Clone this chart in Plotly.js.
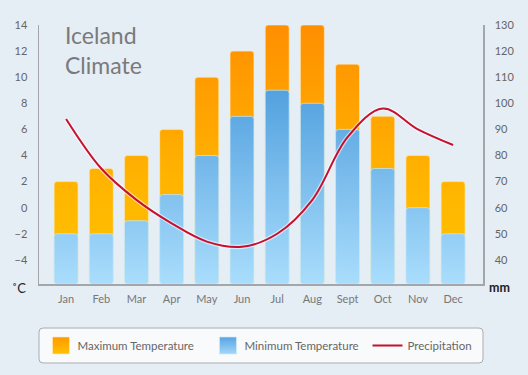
<!DOCTYPE html>
<html>
<head>
<meta charset="utf-8">
<script src="https://cdn.plot.ly/plotly-3.0.1.min.js"></script>
<style>
  html, body { margin: 0; padding: 0; background: #e5edf5; }
  #chart { width: 528px; height: 375px; }
</style>
</head>
<body>
<div id="chart"></div>
<script>
const months = ['Jan', 'Feb', 'Mar', 'Apr', 'May', 'Jun', 'Jul', 'Aug', 'Sept', 'Oct', 'Nov', 'Dec'];
const maxTemp = [2, 3, 4, 6, 10, 12, 14, 14, 11, 7, 4, 2];
const minTemp = [-2, -2, -1, 1, 4, 7, 9, 8, 6, 3, 0, -2];
const precipitation = [94, 75, 63, 54, 47, 45, 50, 63, 87, 98, 90, 84];
const tempTicks = [-4, -2, 0, 2, 4, 6, 8, 10, 12, 14];
const precipTicks = [40, 50, 60, 70, 80, 90, 100, 110, 120, 130];

const tempRange = [-5.85, 14];
const precipRange = [30.75, 130];
const base = tempRange[0];
const xIdx = months.map((m, i) => i);

const FONT = 'Lato, "Open Sans", sans-serif';

const traces = [
  {
    type: 'bar', name: 'Maximum Temperature', x: xIdx, legend: 'legend',
    y: maxTemp.map(v => v - base), base: base,
    width: 0.68,
    marker: { color: '#ffa800', line: { color: 'rgba(255,235,190,0.6)', width: 1 } },
    hoverinfo: 'skip'
  },
  {
    type: 'bar', name: 'Minimum Temperature', x: xIdx, legend: 'legend2',
    y: minTemp.map(v => v - base), base: base,
    width: 0.68,
    marker: { color: '#6fb5e8', line: { color: 'rgba(200,235,255,0.7)', width: 1 } },
    hoverinfo: 'skip'
  },
  {
    type: 'scatter', mode: 'lines', x: xIdx, y: precipitation, yaxis: 'y2',
    line: { color: 'rgba(255,255,255,0.55)', width: 4.5, shape: 'spline', smoothing: 1 },
    showlegend: false, hoverinfo: 'skip'
  },
  {
    type: 'scatter', mode: 'lines', name: 'Precipitation', x: xIdx, y: precipitation, yaxis: 'y2',
    legend: 'legend3',
    line: { color: '#c8102e', width: 2, shape: 'spline', smoothing: 1 },
    hoverinfo: 'skip'
  }
];

const rx = 4 / 444, ry = 4 / 259;
const yt = -0.170, yb = -0.305;
const boxPath = `M ${rx},${yt} L ${1 - rx},${yt} Q 1,${yt} 1,${yt - ry} L 1,${yb + ry} Q 1,${yb} ${1 - rx},${yb} L ${rx},${yb} Q 0,${yb} 0,${yb + ry} L 0,${yt - ry} Q 0,${yt} ${rx},${yt} Z`;

function legendAt(x) {
  return {
    orientation: 'h', x: x, xanchor: 'left', y: -0.2375, yanchor: 'middle',
    bgcolor: 'rgba(0,0,0,0)', borderwidth: 0,
    font: { family: FONT, size: 11.5, color: '#666' }
  };
}

const layout = {
  width: 528, height: 375,
  margin: { l: 39, r: 45, t: 25, b: 91, pad: 0, autoexpand: false },
  paper_bgcolor: '#e5edf5',
  plot_bgcolor: 'rgba(0,0,0,0)',
  font: { family: FONT, color: '#666', size: 11 },
  barmode: 'overlay',
  barcornerradius: 3,
  showlegend: true,
  xaxis: {
    range: [-0.77, 11.85], tickvals: xIdx, ticktext: months,
    showline: true, linecolor: '#a3a7ab', linewidth: 1.5,
    showgrid: false, zeroline: false, ticks: '',
    ticklabelstandoff: 4,
    tickfont: { family: FONT, size: 11, color: '#777' },
    fixedrange: true
  },
  yaxis: {
    range: tempRange, tickvals: tempTicks,
    showline: true, linecolor: '#a3a7ab', linewidth: 1.5,
    showgrid: false, zeroline: false, ticks: '',
    ticklabelstandoff: 8,
    tickfont: { family: FONT, size: 11, color: '#666' },
    fixedrange: true
  },
  yaxis2: {
    range: precipRange, tickvals: precipTicks, overlaying: 'y', side: 'right',
    showline: true, linecolor: '#a3a7ab', linewidth: 1.5,
    showgrid: false, zeroline: false, ticks: '',
    ticklabelstandoff: 8,
    tickfont: { family: FONT, size: 11, color: '#666' },
    fixedrange: true
  },
  legend: legendAt(-0.0034),
  legend2: legendAt(0.3727),
  legend3: legendAt(0.7399),
  shapes: [
    { type: 'path', xref: 'paper', yref: 'paper', path: boxPath,
      fillcolor: '#f9fafb', line: { color: '#a9adb2', width: 1 }, layer: 'below' }
  ],
  annotations: [
    { text: 'Iceland<br>Climate', xref: 'paper', yref: 'paper', x: 0.054, y: 1.025,
      xanchor: 'left', yanchor: 'top', showarrow: false, align: 'left',
      font: { family: FONT, size: 23, color: '#7a7a7a' } },
    { text: '˚C', xref: 'paper', yref: 'paper', x: -0.045, y: -0.015,
      xanchor: 'center', yanchor: 'middle', showarrow: false,
      font: { family: FONT, size: 13, color: '#222' } },
    { text: '<b>mm</b>', xref: 'paper', yref: 'paper', x: 1.037, y: -0.015,
      xanchor: 'center', yanchor: 'middle', showarrow: false,
      font: { family: FONT, size: 12.5, color: '#222' } }
  ]
};

Plotly.newPlot('chart', traces, layout, { staticPlot: true, displayModeBar: false }).then(gd => {
  const ns = 'http://www.w3.org/2000/svg';
  const svg = gd.querySelector('.main-svg');
  let defs = svg.querySelector('defs');
  if (!defs) { defs = document.createElementNS(ns, 'defs'); svg.insertBefore(defs, svg.firstChild); }
  const h = gd._fullLayout._size.h;
  function grad(id, stops, userH) {
    const g = document.createElementNS(ns, 'linearGradient');
    g.setAttribute('id', id);
    g.setAttribute('x1', '0'); g.setAttribute('x2', '0');
    if (userH) {
      g.setAttribute('gradientUnits', 'userSpaceOnUse');
      g.setAttribute('y1', '0'); g.setAttribute('y2', String(userH));
    } else {
      g.setAttribute('y1', '0'); g.setAttribute('y2', '1');
    }
    stops.forEach(([o, c]) => {
      const s = document.createElementNS(ns, 'stop');
      s.setAttribute('offset', o); s.setAttribute('stop-color', c);
      g.appendChild(s);
    });
    defs.appendChild(g);
  }
  grad('gOrange', [[0, '#ff8f00'], [0.6, '#ffb400'], [1, '#ffc400']], h);
  grad('gBlue', [[0, '#3f93d8'], [0.25, '#53a1df'], [1, '#a9ddfc']], h);
  grad('gOrangeL', [[0, '#ff9a00'], [1, '#ffc200']]);
  grad('gBlueL', [[0, '#58a4e4'], [1, '#a2d6f8']]);
  const barTraces = gd.querySelectorAll('.barlayer .trace');
  if (barTraces[0]) barTraces[0].querySelectorAll('path').forEach(p => p.style.fill = 'url(#gOrange)');
  if (barTraces[1]) barTraces[1].querySelectorAll('path').forEach(p => p.style.fill = 'url(#gBlue)');
  gd.querySelectorAll('g.traces').forEach(it => {
    const d = it.__data__;
    const tr = d && d[0] && d[0].trace;
    const name = tr ? tr.name : '';
    it.querySelectorAll('.legendpoints path').forEach(p => {
      if (name === 'Maximum Temperature') { p.style.fill = 'url(#gOrangeL)'; p.setAttribute('d', 'M12,8.5H-5V-8.5H12Z'); }
      if (name === 'Minimum Temperature') { p.style.fill = 'url(#gBlueL)'; p.setAttribute('d', 'M12,8.5H-5V-8.5H12Z'); }
      if (name === 'Precipitation') { p.setAttribute('d', 'M14.5,0h18'); p.style.strokeWidth = '3px'; }
    });
  });
});
</script>
</body>
</html>
